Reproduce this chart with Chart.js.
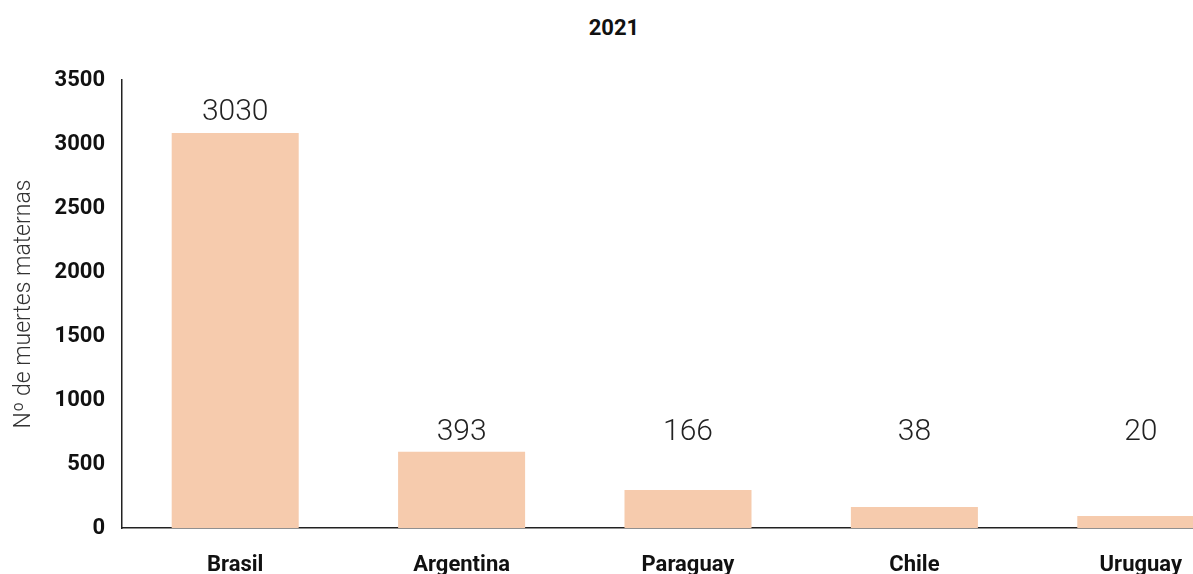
<!DOCTYPE html>
<html lang="es">
<head>
<meta charset="utf-8">
<title>Muertes maternas 2021</title>
<script src="https://cdn.jsdelivr.net/npm/chart.js@4.4.1/dist/chart.umd.min.js"></script>
<style>
  html, body { margin: 0; padding: 0; background: #fff; overflow: hidden; }
  .wrap { position: relative; width: 1193px; height: 574px; overflow: hidden; }
  .chart-title {
    position: absolute; top: 15px; left: 0; width: 1228px; text-align: center;
    font: 700 22px Roboto, sans-serif; color: #111;
  }
  canvas { position: absolute; left: 0; top: 0; }
</style>
</head>
<body>
<div class="wrap">
  <div class="chart-title">2021</div>
  <canvas id="chartDeaths" width="1254" height="574"></canvas>
</div>
<script>
const countries = ['Brasil', 'Argentina', 'Paraguay', 'Chile', 'Uruguay'];
// bar heights as drawn in the picture
const barValues = [3085, 595, 297, 164, 94];
// numbers written above the bars
const labelValues = [3030, 393, 166, 38, 20];
// height (in axis units) at which each number sits
const labelAnchors = [3245, 745, 745, 745, 745];
const yTicks = [0, 500, 1000, 1500, 2000, 2500, 3000, 3500];

const valueLabels = {
  id: 'valueLabels',
  afterDatasetsDraw(chart) {
    const { ctx, scales } = chart;
    const meta = chart.getDatasetMeta(0);
    ctx.save();
    ctx.font = '300 30px Roboto, sans-serif';
    ctx.fillStyle = '#222';
    ctx.textAlign = 'center';
    ctx.textBaseline = 'middle';
    meta.data.forEach((bar, i) => {
      ctx.fillText(String(labelValues[i]), bar.x, scales.y.getPixelForValue(labelAnchors[i]));
    });
    ctx.restore();
  }
};

new Chart(document.getElementById('chartDeaths'), {
  type: 'bar',
  data: {
    labels: countries,
    datasets: [{
      label: 'Nº de muertes maternas',
      data: barValues,
      backgroundColor: '#f6cbad',
      categoryPercentage: 1,
      barPercentage: 0.561
    }]
  },
  options: {
    responsive: false,
    devicePixelRatio: 1,
    animation: false,
    layout: { padding: { top: 80, left: 0, right: 0, bottom: 0 } },
    plugins: {
      legend: { display: false },
      tooltip: { enabled: false },
      title: { display: false }
    },
    scales: {
      y: {
        min: 0,
        max: 3500,
        afterBuildTicks(scale) { scale.ticks = yTicks.map(v => ({ value: v })); },
        afterFit(scale) { scale.width = 122; },
        grid: { display: false, drawTicks: false },
        border: { display: true, color: '#222', width: 1.5 },
        ticks: {
          padding: 17,
          color: '#111',
          font: { family: 'Roboto', size: 22, weight: '700' },
          callback: v => String(v)
        },
        title: {
          display: true,
          text: 'Nº de muertes maternas',
          color: '#333',
          font: { family: 'Roboto', size: 23, weight: '300' },
          padding: { top: 10, bottom: 0 }
        }
      },
      x: {
        afterFit(scale) { scale.height = 46; },
        grid: { display: false, drawTicks: false },
        border: { display: true, color: '#222', width: 1.5 },
        ticks: { padding: 24, color: '#111', maxRotation: 0, font: { family: 'Roboto', size: 22, weight: '700' } }
      }
    }
  },
  plugins: [valueLabels]
});
</script>
</body>
</html>
